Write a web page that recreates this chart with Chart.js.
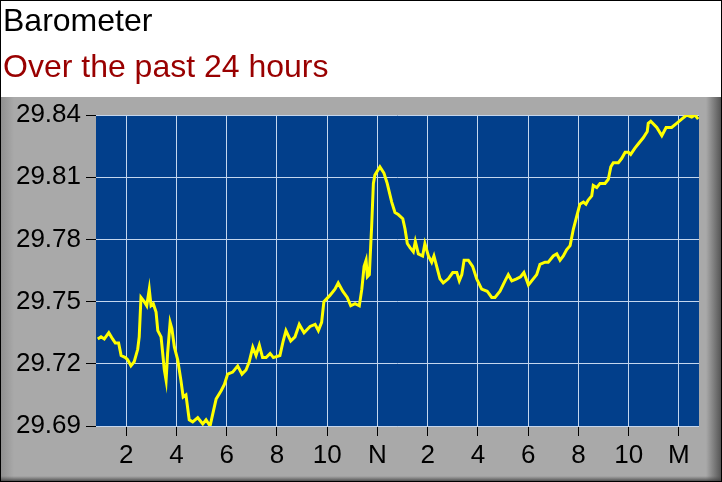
<!DOCTYPE html>
<html>
<head>
<meta charset="utf-8">
<title>Barometer</title>
<script src="https://cdn.jsdelivr.net/npm/chart.js@4.4.1/dist/chart.umd.min.js"></script>
<style>
  html, body { margin: 0; padding: 0; background: #fff; }
  #wrap { width: 722px; height: 482px; position: relative; }
</style>
</head>
<body>
<div id="wrap"><canvas id="baroChart"></canvas></div>
<script>
// hours since midnight (24 = midnight again)
const hours = [
  0.87, 1.00, 1.13, 1.31, 1.46, 1.57, 1.70, 1.80, 1.97, 2.06, 2.19, 2.32, 2.46, 2.52,
  2.59, 2.72, 2.82, 2.92, 2.99, 3.08, 3.19, 3.26, 3.39, 3.52, 3.59, 3.65, 3.75, 3.82,
  3.92, 4.05, 4.18, 4.27, 4.38, 4.51, 4.65, 4.85, 5.05, 5.18, 5.34, 5.45, 5.58, 5.78,
  5.91, 6.04, 6.24, 6.44, 6.61, 6.77, 6.90, 7.04, 7.17, 7.30, 7.43, 7.57, 7.73, 7.86,
  8.12, 8.25, 8.36, 8.55, 8.72, 8.89, 9.08, 9.32, 9.52, 9.65, 9.78, 9.87, 10.11, 10.31,
  10.44, 10.62, 10.80, 10.94, 11.11, 11.28, 11.38, 11.47, 11.55, 11.60, 11.68, 11.73,
  11.77, 11.84, 11.90, 12.10, 12.26, 12.39, 12.57, 12.70, 12.83, 13.01, 13.10, 13.19,
  13.30, 13.43, 13.51, 13.63, 13.80, 13.89, 14.03, 14.16, 14.25, 14.36, 14.49, 14.62,
  14.82, 15.00, 15.16, 15.26, 15.36, 15.45, 15.62, 15.79, 15.95, 16.15, 16.37, 16.55,
  16.68, 16.88, 17.08, 17.21, 17.35, 17.54, 17.70, 17.83, 18.01, 18.14, 18.34, 18.47,
  18.67, 18.80, 19.00, 19.14, 19.27, 19.40, 19.53, 19.67, 19.80, 19.93, 20.06, 20.20,
  20.30, 20.39, 20.53, 20.59, 20.73, 20.86, 21.06, 21.19, 21.29, 21.39, 21.59, 21.72,
  21.86, 21.99, 22.08, 22.25, 22.38, 22.58, 22.74, 22.78, 22.88, 23.12, 23.32, 23.49,
  23.71, 23.91, 24.11, 24.31, 24.51, 24.64, 24.77
];

const pressure = [
  29.732, 29.733, 29.732, 29.735, 29.732, 29.730, 29.730, 29.724, 29.723, 29.722, 29.719, 29.721, 29.727, 29.733,
  29.752, 29.750, 29.748, 29.756, 29.748, 29.749, 29.745, 29.736, 29.733, 29.717, 29.712, 29.725, 29.740, 29.737,
  29.728, 29.722, 29.712, 29.704, 29.705, 29.693, 29.692, 29.694, 29.691, 29.693, 29.690, 29.696, 29.703, 29.707,
  29.710, 29.715, 29.716, 29.719, 29.715, 29.717, 29.721, 29.728, 29.724, 29.729, 29.723, 29.723, 29.725, 29.723,
  29.724, 29.731, 29.736, 29.731, 29.733, 29.739, 29.735, 29.738, 29.739, 29.736, 29.740, 29.750, 29.753, 29.756,
  29.759, 29.755, 29.752, 29.748, 29.749, 29.748, 29.756, 29.767, 29.770, 29.762, 29.763, 29.776,
  29.786, 29.807, 29.811, 29.815, 29.812, 29.807, 29.798, 29.793, 29.792, 29.790, 29.785, 29.778,
  29.776, 29.774, 29.779, 29.773, 29.772, 29.778, 29.772, 29.769, 29.772, 29.767, 29.761, 29.759,
  29.761, 29.764, 29.764, 29.760, 29.763, 29.770, 29.770, 29.767, 29.761, 29.756, 29.755, 29.752,
  29.752, 29.755, 29.760, 29.763, 29.760, 29.761, 29.762, 29.764, 29.758, 29.760, 29.763, 29.768,
  29.769, 29.769, 29.772, 29.773, 29.770, 29.772, 29.775, 29.777, 29.785, 29.791, 29.797, 29.798,
  29.797, 29.799, 29.801, 29.806, 29.805, 29.807, 29.807, 29.809, 29.815, 29.817, 29.817, 29.819,
  29.822, 29.822, 29.821, 29.824, 29.826, 29.829, 29.832, 29.836, 29.837, 29.834, 29.830, 29.834,
  29.834, 29.836, 29.838, 29.840, 29.839, 29.840, 29.838
];

const hourTicks = [2, 4, 6, 8, 10, 12, 14, 16, 18, 20, 22, 24];
const hourLabels = ["2", "4", "6", "8", "10", "N", "2", "4", "6", "8", "10", "M"];
const pressureTicks = [29.69, 29.72, 29.75, 29.78, 29.81, 29.84];

const fontFamily = "'Liberation Sans', Arial, sans-serif";

// paints the white header, the grey frame and the blue plot area
const framePlugin = {
  id: "frame",
  beforeDraw(chart) {
    const ctx = chart.ctx;
    const w = chart.width;
    const h = chart.height;
    const area = chart.chartArea;
    const top = 97;

    ctx.save();
    ctx.fillStyle = "#ffffff";
    ctx.fillRect(0, 0, w, h);

    ctx.fillStyle = "#a9a9a9";
    ctx.fillRect(0, top, w, h - top);

    let g = ctx.createLinearGradient(0, 0, 14, 0);
    g.addColorStop(0, "#8e8e8e");
    g.addColorStop(1, "#a9a9a9");
    ctx.fillStyle = g;
    ctx.fillRect(0, top, 14, h - top);

    g = ctx.createLinearGradient(w - 16, 0, w, 0);
    g.addColorStop(0, "#a9a9a9");
    g.addColorStop(1, "#505050");
    ctx.fillStyle = g;
    ctx.fillRect(w - 16, top, 16, h - top);

    g = ctx.createLinearGradient(0, h - 6, 0, h);
    g.addColorStop(0, "rgba(80,80,80,0)");
    g.addColorStop(1, "rgba(60,60,60,1)");
    ctx.fillStyle = g;
    ctx.fillRect(0, h - 6, w, 6);

    ctx.strokeStyle = "#000000";
    ctx.lineWidth = 1;
    ctx.strokeRect(0.5, 0.5, w - 1, h - 1);

    ctx.fillStyle = "#023f8b";
    ctx.fillRect(area.left, area.top, area.right - area.left, area.bottom - area.top);
    ctx.restore();
  }
};

function buildChart() {
  const ctx = document.getElementById("baroChart");

  new Chart(ctx, {
    type: "line",
    data: {
      datasets: [{
        label: "Barometer",
        data: hours.map((h, i) => ({ x: h, y: pressure[i] })),
        borderColor: "#ffff00",
        borderWidth: 3,
        pointRadius: 0,
        tension: 0,
        fill: false
      }]
    },
    options: {
      responsive: true,
      maintainAspectRatio: false,
      animation: false,
      devicePixelRatio: 1,
      layout: {
        padding: { left: 3, right: 23, top: 0, bottom: 0 }
      },
      plugins: {
        legend: { display: false },
        tooltip: { enabled: false },
        title: {
          display: true,
          text: "Barometer",
          align: "start",
          color: "#000000",
          font: { family: fontFamily, size: 32, weight: "normal", lineHeight: 1.2 },
          padding: { top: 3, bottom: 3 }
        },
        subtitle: {
          display: true,
          text: "Over the past 24 hours",
          align: "start",
          color: "#990000",
          font: { family: fontFamily, size: 32, weight: "normal", lineHeight: 1.2 },
          padding: { top: 5, bottom: 27.2 }
        }
      },
      scales: {
        x: {
          type: "linear",
          min: 0.8,
          max: 24.8,
          afterFit(scale) { scale.height = 56; },
          afterBuildTicks(scale) { scale.ticks = hourTicks.map(v => ({ value: v })); },
          border: { display: false },
          grid: {
            color: "#c4d6ee",
            lineWidth: 1,
            drawTicks: true,
            tickLength: 10,
            tickColor: "#000000"
          },
          ticks: {
            color: "#000000",
            padding: 4,
            maxRotation: 0,
            autoSkip: false,
            font: { family: fontFamily, size: 26 },
            callback: function(value) {
              const idx = hourTicks.indexOf(value);
              return idx >= 0 ? hourLabels[idx] : "";
            }
          }
        },
        y: {
          min: 29.69,
          max: 29.84,
          afterFit(scale) { scale.width = 93; },
          afterBuildTicks(scale) { scale.ticks = pressureTicks.map(v => ({ value: v })); },
          border: { display: false },
          grid: {
            color: "#c4d6ee",
            lineWidth: 1,
            drawTicks: true,
            tickLength: 10,
            tickColor: "#000000"
          },
          ticks: {
            color: "#000000",
            padding: 5,
            autoSkip: false,
            font: { family: fontFamily, size: 26 },
            callback: function(value) {
              return Number(value).toFixed(2);
            }
          }
        }
      }
    },
    plugins: [framePlugin]
  });
}

buildChart();
</script>
</body>
</html>
